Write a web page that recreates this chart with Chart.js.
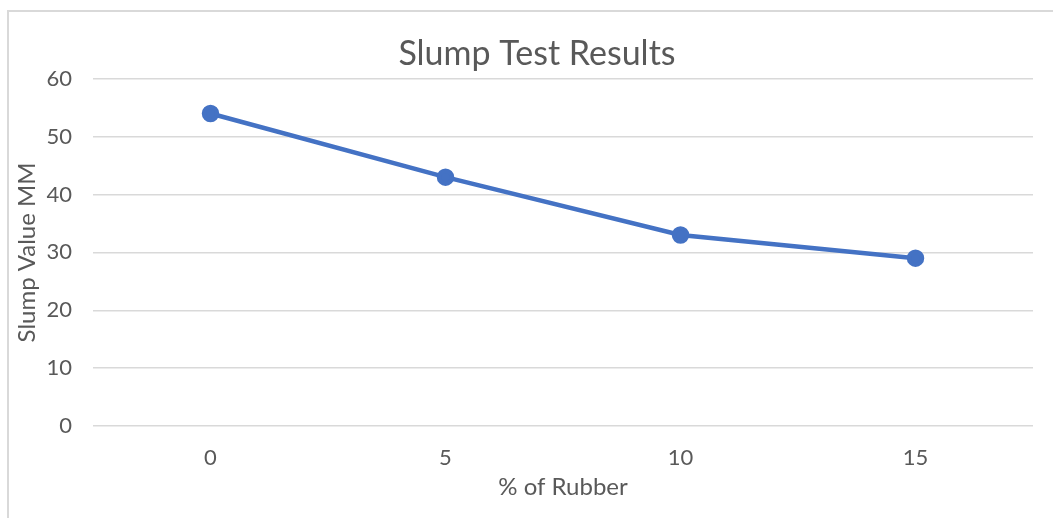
<!DOCTYPE html>
<html lang="en">
<head>
<meta charset="UTF-8">
<title>Slump Test Results</title>
<script src="https://cdn.jsdelivr.net/npm/chart.js"></script>
<style>
  html, body { margin: 0; padding: 0; background: #fff; overflow: hidden; }
  .frame { position: absolute; left: 7px; top: 10px; width: 1100px; height: 600px; border: 2px solid #d9d9d9; box-sizing: border-box; }
  .wrap { position: absolute; left: 0; top: 0; width: 1053px; height: 518px; }
</style>
</head>
<body>
<div class="frame"></div>
<div class="wrap"><canvas id="slump"></canvas></div>
<script>
// data
var rubberPct = ['0', '5', '10', '15'];
var slumpValues = [54, 43, 33, 29];
var yTicks = [0, 10, 20, 30, 40, 50, 60];

var grey = '#595959';
var fontName = 'Lato, "Open Sans", sans-serif';

// the title sits a bit right of the canvas centre in the original
var nudgeTitle = {
    id: 'nudgeTitle',
    afterLayout: function(chart) {
        if (chart.titleBlock) chart.titleBlock.left += 41;
    }
};

var ctx = document.getElementById('slump').getContext('2d');
new Chart(ctx, {
    type: 'line',
    data: {
        labels: rubberPct,
        datasets: [{
            label: 'Slump Value MM',
            data: slumpValues,
            borderColor: '#4472C4',
            backgroundColor: '#4472C4',
            borderWidth: 4.5,
            pointRadius: 6.5,
            pointHoverRadius: 6.5,
            tension: 0
        }]
    },
    options: {
        responsive: true,
        maintainAspectRatio: false,
        animation: false,
        layout: { padding: { top: 0, right: 20, bottom: 0, left: 0 } },
        plugins: {
            legend: { display: false },
            tooltip: { enabled: false },
            title: {
                display: true,
                text: 'Slump Test Results',
                color: grey,
                font: { family: fontName, size: 34, weight: 'normal', lineHeight: 1.2 },
                padding: { top: 34, bottom: 4 }
            }
        },
        scales: {
            x: {
                offset: true,
                grid: { display: false, drawTicks: false },
                border: { display: false },
                ticks: { color: grey, font: { family: fontName, size: 22 }, padding: 19 },
                title: {
                    display: true,
                    text: '% of Rubber',
                    color: grey,
                    font: { family: fontName, size: 24, lineHeight: 1.2 },
                    padding: { top: 0, bottom: 16 }
                },
                afterFit: function(scale) { scale.height = 92; }
            },
            y: {
                min: 0,
                max: 60,
                afterBuildTicks: function(scale) {
                    scale.ticks = yTicks.map(function(v) { return { value: v }; });
                },
                grid: { color: '#d9d9d9', lineWidth: 1.5, drawTicks: false },
                border: { display: false },
                ticks: { color: grey, font: { family: fontName, size: 22 }, padding: 21 },
                title: {
                    display: true,
                    text: 'Slump Value MM',
                    color: grey,
                    font: { family: fontName, size: 24, lineHeight: 1.2 },
                    padding: { top: 13, bottom: 0 }
                },
                afterFit: function(scale) { scale.width = 93; }
            }
        }
    },
    plugins: [nudgeTitle]
});
</script>
</body>
</html>
